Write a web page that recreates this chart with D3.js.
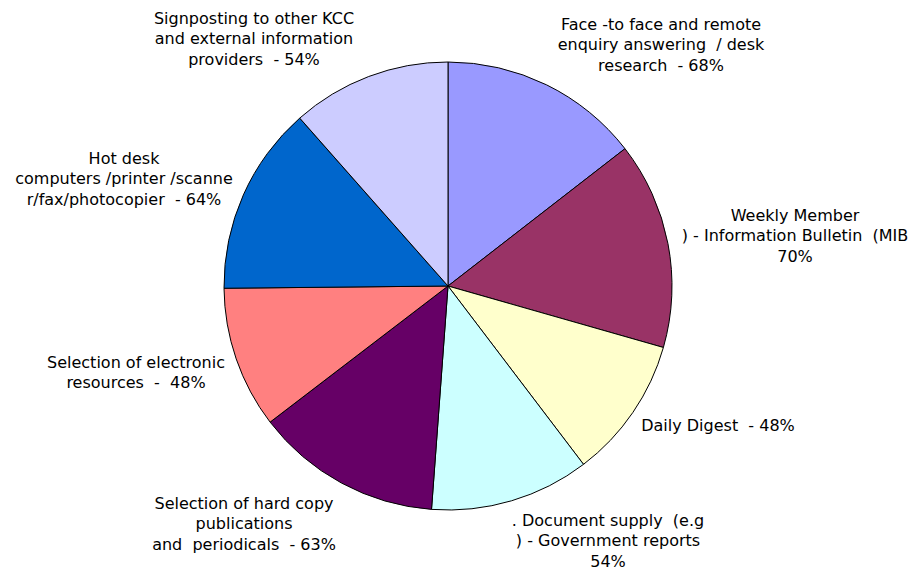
<!DOCTYPE html>
<html>
<head>
<meta charset="utf-8">
<script src="https://cdn.jsdelivr.net/npm/d3@7"></script>
<style>
  body { margin: 0; background: #fff; }
  text { font-family: "DejaVu Sans", Verdana, sans-serif; font-size: 16px; fill: #000; white-space: pre; }
</style>
</head>
<body>
<div id="chart"></div>
<script>
var labels = [
    ["Face -to face and remote", "enquiry answering  / desk", "research  - 68%"],
    ["Weekly Member", ") - Information Bulletin  (MIB", "70%"],
    ["Daily Digest  - 48%"],
    [". Document supply  (e.g", ") - Government reports", "54%"],
    ["Selection of hard copy", "publications", "and  periodicals  - 63%"],
    ["Selection of electronic", "resources  -  48%"],
    ["Hot desk", "computers /printer /scanne", "r/fax/photocopier  - 64%"],
    ["Signposting to other KCC", "and external information", "providers  - 54%"]
];
var values = [68, 70, 48, 54, 63, 48, 64, 54];
var colors = ["#9999ff", "#993366", "#ffffcc", "#ccffff", "#660066", "#ff8080", "#0066cc", "#ccccff"];

// label anchor (centre x, first baseline) relative to pie centre, as Excel laid them out
var labelAt = [[213, -256], [347, -65], [270, 145], [160, 240], [-204, 223], [-312, 82], [-324, -122], [-194, -262]];

var width = 917, height = 572,
    cx = 448, cy = 286, r = 224,
    lineH = 20.3;

var svg = d3.select("#chart").append("svg")
    .attr("width", width)
    .attr("height", height);

var g = svg.append("g").attr("transform", "translate(" + cx + "," + cy + ")");

var pie = d3.pie().sort(null).value(function (d) { return d; });
var arc = d3.arc().innerRadius(0).outerRadius(r);
var arcs = pie(values);

g.selectAll("path.slice")
    .data(arcs)
    .enter().append("path")
    .attr("class", "slice")
    .attr("d", arc)
    .attr("fill", function (d, i) { return colors[i]; })
    .attr("stroke", "#000")
    .attr("stroke-width", 1);

var lbl = g.selectAll("text.lbl")
    .data(labels)
    .enter().append("text")
    .attr("class", "lbl")
    .attr("text-anchor", "middle")
    .attr("x", function (d, i) { return labelAt[i][0]; })
    .attr("y", function (d, i) { return labelAt[i][1]; });

lbl.selectAll("tspan")
    .data(function (d, i) { return d.map(function (s) { return { s: s, i: i }; }); })
    .enter().append("tspan")
    .attr("x", function (d) { return labelAt[d.i][0]; })
    .attr("dy", function (d, j) { return j === 0 ? 0 : lineH; })
    .text(function (d) { return d.s; });
</script>
</body>
</html>
